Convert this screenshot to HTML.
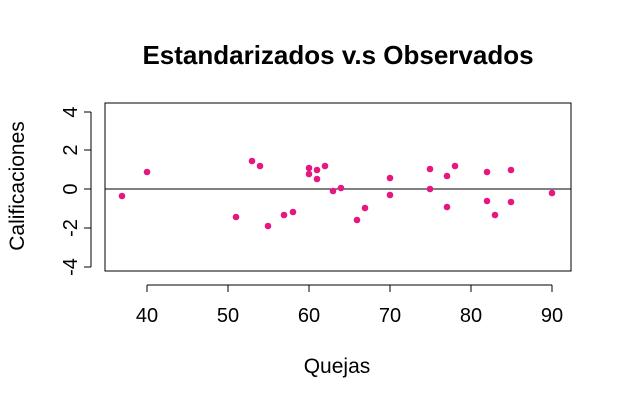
<!DOCTYPE html>
<html><head><meta charset="utf-8"><style>
html,body{margin:0;padding:0;background:#fff;}
svg{display:block;font-family:"Liberation Sans",Arial,sans-serif;}
</style></head><body>
<svg width="624" height="405" viewBox="0 0 624 405" xmlns="http://www.w3.org/2000/svg">
<rect width="624" height="405" fill="#fff"/>
<text x="338" y="64" text-anchor="middle" font-size="26" font-weight="bold">Estandarizados v.s Observados</text>
<rect x="105" y="103" width="466" height="168" fill="none" stroke="#000" stroke-width="1"/>
<line x1="105" y1="189" x2="571" y2="189" stroke="#000" stroke-width="1"/>
<g stroke="#000" stroke-width="1">
<line x1="147" y1="285" x2="552" y2="285"/>
<line x1="147" y1="285" x2="147" y2="292"/><line x1="228" y1="285" x2="228" y2="292"/>
<line x1="309" y1="285" x2="309" y2="292"/><line x1="390" y1="285" x2="390" y2="292"/>
<line x1="471" y1="285" x2="471" y2="292"/><line x1="552" y1="285" x2="552" y2="292"/>
<line x1="91" y1="112" x2="91" y2="267"/>
<line x1="84" y1="112" x2="91" y2="112"/><line x1="84" y1="150" x2="91" y2="150"/>
<line x1="84" y1="189" x2="91" y2="189"/><line x1="84" y1="228" x2="91" y2="228"/>
<line x1="84" y1="267" x2="91" y2="267"/>
</g>
<g font-size="20" text-anchor="middle">
<text x="147" y="322">40</text><text x="228" y="322">50</text><text x="309" y="322">60</text>
<text x="390" y="322">70</text><text x="471" y="322">80</text><text x="552" y="322">90</text>
</g>
<text x="337" y="373" font-size="21" text-anchor="middle">Quejas</text>
<g font-size="20" text-anchor="middle">
<text transform="translate(77,112) rotate(-90)">4</text>
<text transform="translate(77,150) rotate(-90)">2</text>
<text transform="translate(77,189) rotate(-90)">0</text>
<text transform="translate(77,228) rotate(-90)">-2</text>
<text transform="translate(77,267) rotate(-90)">-4</text>
</g>
<text transform="translate(24,186) rotate(-90)" font-size="21" text-anchor="middle">Calificaciones</text>
<g fill="#e6177f">
<circle cx="122" cy="196" r="3.3"/><circle cx="147" cy="172" r="3.3"/><circle cx="236" cy="217" r="3.3"/>
<circle cx="252" cy="161" r="3.3"/><circle cx="260" cy="166" r="3.3"/><circle cx="268" cy="226" r="3.3"/>
<circle cx="284" cy="215" r="3.3"/><circle cx="293" cy="212" r="3.3"/><circle cx="309" cy="168" r="3.3"/>
<circle cx="309" cy="174" r="3.3"/><circle cx="317" cy="170" r="3.3"/><circle cx="317" cy="179" r="3.3"/>
<circle cx="325" cy="166" r="3.3"/><circle cx="333" cy="191" r="3.3"/><circle cx="341" cy="188" r="3.3"/>
<circle cx="357" cy="220" r="3.3"/><circle cx="365" cy="208" r="3.3"/><circle cx="390" cy="178" r="3.3"/>
<circle cx="390" cy="195" r="3.3"/><circle cx="430" cy="169" r="3.3"/><circle cx="430" cy="189" r="3.3"/>
<circle cx="447" cy="176" r="3.3"/><circle cx="447" cy="207" r="3.3"/><circle cx="455" cy="166" r="3.3"/>
<circle cx="487" cy="172" r="3.3"/><circle cx="487" cy="201" r="3.3"/><circle cx="495" cy="215" r="3.3"/>
<circle cx="511" cy="170" r="3.3"/><circle cx="511" cy="202" r="3.3"/><circle cx="552" cy="193" r="3.3"/>
</g>
</svg>
</body></html>
